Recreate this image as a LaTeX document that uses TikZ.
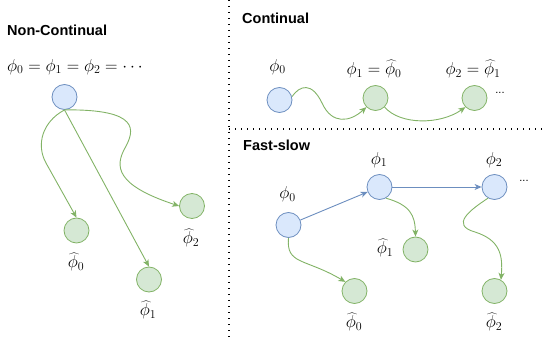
\documentclass[tikz,border=0pt]{standalone}
\usepackage{fontspec}
\newfontfamily\titlefont{Liberation Sans}
\usetikzlibrary{arrows.meta}
\definecolor{bluefill}{HTML}{DAE8FC}
\definecolor{bluedraw}{HTML}{6C8EBF}
\definecolor{greenfill}{HTML}{D5E8D4}
\definecolor{greendraw}{HTML}{82B366}
\tikzset{
  bnode/.style={circle, minimum size=25pt, inner sep=0pt, fill=bluefill, draw=bluedraw, line width=0.8pt},
  gnode/.style={circle, minimum size=25pt, inner sep=0pt, fill=greenfill, draw=greendraw, line width=0.8pt},
  garrow/.style={draw=greendraw, line width=0.9pt, -{Stealth[length=7pt,width=6pt,inset=2pt]}, fill=none},
  barrow/.style={draw=bluedraw, line width=0.9pt, -{Stealth[length=7pt,width=6pt,inset=2pt]}, fill=none},
  ttl/.style={font=\titlefont\bfseries\fontsize{14.5}{17}\selectfont, inner sep=0pt, anchor=west},
  lbl/.style={font=\fontsize{18.5}{22}\selectfont, inner sep=0pt},
  dts/.style={font=\titlefont\fontsize{11}{13}\selectfont, inner sep=0pt},
  sep/.style={line width=1.2pt, dash pattern=on 1.2pt off 4.8pt},
}
\begin{document}
\begin{tikzpicture}[x=1pt,y=-1pt]
\useasboundingbox (0,0) rectangle (544,342);
% separators
\draw[sep] (229,0) -- (229,342);
\draw[sep] (229,129) -- (544,129);

% ---------- Non-Continual ----------
\node[ttl] (t1) at (7,30) {Non-Continual};
\node[lbl, anchor=west] (eq) at (7,67) {$\phi_0=\phi_1=\phi_2=\cdots$};
\node[bnode] (a) at (64.5,97) {};
\node[gnode] (n0) at (76.5,230.5) {};
\node[gnode] (n1) at (149,279.5) {};
\node[gnode] (n2) at (192,206) {};
\node[lbl] (ln0) at (76,262) {$\widehat{\phi}_0$};
\node[lbl] (ln1) at (148,310) {$\widehat{\phi}_1$};
\node[lbl] (ln2) at (191,238) {$\widehat{\phi}_2$};
\draw[garrow] (a.south) .. controls (42,122) and (36,145) .. (46,163) -- (n0.north);
\draw[garrow] (a.south) -- (n1.north);
\draw[garrow] (a.south) .. controls (140,109) and (135,130) .. (125,148)
  .. controls (115,166) and (115,185) .. (n2.west);

% ---------- Continual ----------
\node[ttl] (t2) at (242,18) {Continual};
\node[bnode] (c0) at (279.5,100) {};
\node[gnode] (c1) at (375.5,98) {};
\node[gnode] (c2) at (474.5,98) {};
\node[lbl] (lc0) at (277.5,67) {$\phi_0$};
\node[lbl] (lc1) at (374,69) {$\phi_1=\widehat{\phi}_0$};
\node[lbl] (lc2) at (473,69) {$\phi_2=\widehat{\phi}_1$};
\node[dts] (d1) at (500,93) {...};
\draw[garrow] (c0.15) .. controls (300,85) and (312,82) .. (322,103)
  .. controls (332,125) and (350,122) .. (c1.225);
\draw[garrow] (c1.-45) .. controls (400,125) and (440,125) .. (c2.225);

% ---------- Fast-slow ----------
\node[ttl] (t3) at (243,145) {Fast-slow};
\node[bnode] (f0) at (288.5,225) {};
\node[bnode] (f1) at (379.5,187) {};
\node[bnode] (f2) at (494.5,187) {};
\node[gnode] (g0) at (354.5,291) {};
\node[gnode] (g1) at (415.5,249.5) {};
\node[gnode] (g2) at (494.5,291) {};
\node[lbl] (lf0) at (287.5,194.5) {$\phi_0$};
\node[lbl] (lf1) at (379,160) {$\phi_1$};
\node[lbl] (lf2) at (494,160) {$\phi_2$};
\node[lbl] (lg0) at (354,322) {$\widehat{\phi}_0$};
\node[lbl] (lg1) at (385,248) {$\widehat{\phi}_1$};
\node[lbl] (lg2) at (494,322) {$\widehat{\phi}_2$};
\node[dts] (d2) at (524,181) {...};
\draw[barrow] (f0) -- (f1);
\draw[barrow] (f1) -- (f2);
\draw[garrow] (f0.south) .. controls (286,265) and (305,258) .. (g0.135);
\draw[garrow] (f1.-60) .. controls (410,205) and (415,215) .. (g1.north);
\draw[garrow] (f2.240) .. controls (470,210) and (450,225) .. (475,232)
  .. controls (500,240) and (503,255) .. (g2.60);
\end{tikzpicture}
\end{document}
